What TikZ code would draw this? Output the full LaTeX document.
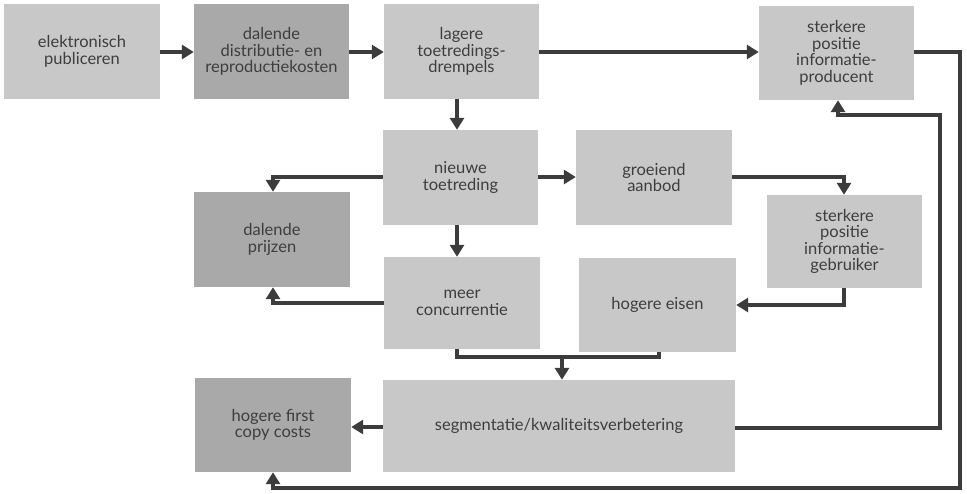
\documentclass[tikz,border=0pt]{standalone}
\usepackage{fontspec}
\setmainfont{Lato}
\usetikzlibrary{arrows.meta}
\definecolor{boxlight}{HTML}{C8C8C8}
\definecolor{boxdark}{HTML}{A9A9A9}
\definecolor{inkgray}{HTML}{3C3C3C}
\definecolor{txtgray}{HTML}{3E3E3E}
\tikzset{
  boxbase/.style={inner sep=0pt, align=center, text=txtgray,
    font=\fontsize{16.5}{16.5}\selectfont},
  lbox/.style={boxbase, fill=boxlight},
  dbox/.style={boxbase, fill=boxdark},
  conn/.style={draw=inkgray, line width=3.6pt,
    -{Triangle[length=12pt,width=14pt]}, line join=miter}
}
\begin{document}
\begin{tikzpicture}[x=1pt,y=-1pt]
\useasboundingbox (0,0) rectangle (967,493);
% row 1
\node[lbox, minimum width=156pt, minimum height=95pt] (elek) at (82,51.5) {elektronisch\\publiceren};
\node[dbox, minimum width=155pt, minimum height=95pt] (dist) at (271.5,51.5) {dalende\\distributie- en\\reproductiekosten};
\node[lbox, minimum width=155pt, minimum height=95pt] (lag) at (461.5,51.5) {lagere\\toetredings-\\drempels};
\node[lbox, minimum width=155pt, minimum height=94pt] (prod) at (836.5,53) {sterkere\\positie\\informatie-\\producent};
% row 2
\node[lbox, minimum width=155pt, minimum height=95pt] (nieuw) at (460.5,177.5) {nieuwe\\toetreding};
\node[lbox, minimum width=156pt, minimum height=95pt] (groei) at (654,177.5) {groeiend\\aanbod};
\node[dbox, minimum width=156pt, minimum height=95pt] (prijz) at (272,239.5) {dalende\\prijzen};
\node[lbox, minimum width=155pt, minimum height=93pt] (gebr) at (844.5,241.5) {sterkere\\positie\\informatie-\\gebruiker};
% row 3
\node[lbox, minimum width=156pt, minimum height=92pt] (meer) at (462,303) {meer\\concurrentie};
\node[lbox, minimum width=157pt, minimum height=94pt] (eisen) at (657.5,305) {hogere eisen};
% row 4
\node[dbox, minimum width=156pt, minimum height=94pt] (first) at (273,425) {hogere first\\copy costs};
\node[lbox, minimum width=352pt, minimum height=92pt] (segm) at (559,426) {segmentatie/kwaliteitsverbetering};
% helper coordinates
\coordinate (mj) at (562,357);
% connectors
\draw[conn] (elek.east |- 0,52) -- (dist.west |- 0,52);
\draw[conn] (dist.east |- 0,52) -- (lag.west |- 0,52);
\draw[conn] (lag.east |- 0,52) -- (prod.west |- 0,52);
\draw[conn] (lag.south -| 457,0) -- (nieuw.north -| 457,0);
\draw[conn] (nieuw.west |- 0,177) -| (prijz.north -| 273,0);
\draw[conn] (nieuw.east |- 0,177) -- (groei.west |- 0,177);
\draw[conn] (nieuw.south -| 457,0) -- (meer.north -| 457,0);
\draw[conn] (groei.east |- 0,177) -| (gebr.north -| 844,0);
\draw[conn] (gebr.south -| 844,0) |- (eisen.east |- 0,305);
\draw[conn] (meer.west |- 0,303) -| (prijz.south -| 273,0);
\draw[draw=inkgray, line width=3.6pt, line join=miter] (meer.south -| 457,0) |- (mj) -| (eisen.south -| 659,0);
\draw[conn] (mj) -- (segm.north -| mj);
\draw[conn] (segm.west |- 0,427) -- (first.east |- 0,427);
\draw[conn] (segm.east |- 0,428) -- (940,428) -- (940,115) -- (838,115) -- (prod.south -| 838,0);
\draw[conn] (prod.east |- 0,52) -- (960,52) -- (960,488) -- (273,488) -- (first.south -| 273,0);
\end{tikzpicture}
\end{document}
